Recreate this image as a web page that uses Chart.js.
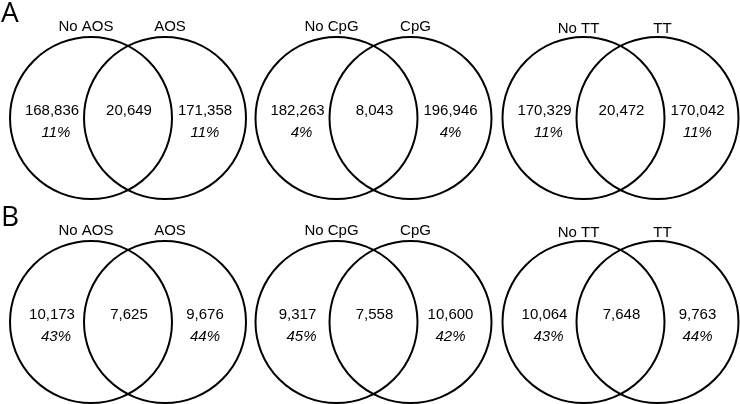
<!DOCTYPE html>
<html>
<head>
<meta charset="utf-8">
<script src="https://cdn.jsdelivr.net/npm/chart.js@4/dist/chart.umd.min.js"></script>
<style>
  html, body { margin: 0; padding: 0; background: #fff; }
  #wrap { width: 740px; height: 404px; }
</style>
</head>
<body>
<div id="wrap"><canvas id="chart" width="740" height="404"></canvas></div>
<script>
// Venn diagrams: region counts and overlap shares, two panels (A, B)

var panelLetters = ['A', 'B'];
var leftNames = ['No AOS', 'No CpG', 'No TT'];
var rightNames = ['AOS', 'CpG', 'TT'];

// Panel A
var onlyLeftA = [168836, 182263, 170329];
var overlapA = [20649, 8043, 20472];
var onlyRightA = [171358, 196946, 170042];
var pctLeftA = [11, 4, 11];
var pctRightA = [11, 4, 11];

// Panel B
var onlyLeftB = [10173, 9317, 10064];
var overlapB = [7625, 7558, 7648];
var onlyRightB = [9676, 10600, 9763];
var pctLeftB = [43, 45, 43];
var pctRightB = [44, 42, 44];

// layout (in the 740 x 404 value space of the hidden axes)
var groupX = [128, 373.5, 620.5];
var rowY = [118, 322];
var halfGap = 37;
var radius = 81;

var rows = [
  { only1: onlyLeftA, both: overlapA, only2: onlyRightA, p1: pctLeftA, p2: pctRightA },
  { only1: onlyLeftB, both: overlapB, only2: onlyRightB, p1: pctLeftB, p2: pctRightB }
];

var circles = [];
rowY.forEach(function (cy) {
  groupX.forEach(function (gx) {
    circles.push({ x: gx - halfGap, y: cy, r: radius });
    circles.push({ x: gx + halfGap, y: cy, r: radius });
  });
});

function fmt(n) { return n.toLocaleString('en-US'); }

var vennText = {
  id: 'vennText',
  afterDatasetsDraw: function (chart) {
    var ctx = chart.ctx, sx = chart.scales.x, sy = chart.scales.y;
    function put(text, x, y, font) {
      ctx.font = font;
      ctx.fillText(text, sx.getPixelForValue(x), sy.getPixelForValue(y));
    }
    ctx.save();
    ctx.fillStyle = '#000';
    ctx.textAlign = 'center';
    ctx.textBaseline = 'middle';
    var f = '15px "Liberation Sans", Arial, sans-serif';
    var fi = 'italic 15px "Liberation Sans", Arial, sans-serif';
    rows.forEach(function (row, ri) {
      var cy = rowY[ri];
      groupX.forEach(function (gx, gi) {
        // the TT labels sit a little lower in the original
        var ly = cy - 91 + (gi === 2 ? 2 : 0);
        put(leftNames[gi], gx - halfGap - 5, ly, f);
        put(rightNames[gi], gx + halfGap + 5, ly, f);
        put(fmt(row.only1[gi]), gx - 76, cy - 7, f);
        put(row.p1[gi] + '%', gx - 72, cy + 15, fi);
        put(fmt(row.both[gi]), gx + 1, cy - 7, f);
        put(fmt(row.only2[gi]), gx + 77, cy - 7, f);
        put(row.p2[gi] + '%', gx + 77, cy + 15, fi);
      });
      ctx.textAlign = 'left';
      put(panelLetters[ri], 1, cy - 104, '28px "Open Sans", "DejaVu Sans", sans-serif');
      ctx.textAlign = 'center';
    });
    ctx.restore();
  }
};

new Chart(document.getElementById('chart').getContext('2d'), {
  type: 'bubble',
  data: {
    datasets: [{
      data: circles,
      backgroundColor: 'rgba(0,0,0,0)',
      borderColor: '#000',
      borderWidth: 2,
      hoverRadius: 0,
      clip: false
    }]
  },
  options: {
    responsive: false,
    animation: false,
    layout: { padding: 0, autoPadding: false },
    plugins: { legend: { display: false }, tooltip: { enabled: false } },
    scales: {
      x: { type: 'linear', min: 0, max: 740, display: false },
      y: { type: 'linear', min: 0, max: 404, reverse: true, display: false }
    }
  },
  plugins: [vennText]
});
</script>
</body>
</html>
